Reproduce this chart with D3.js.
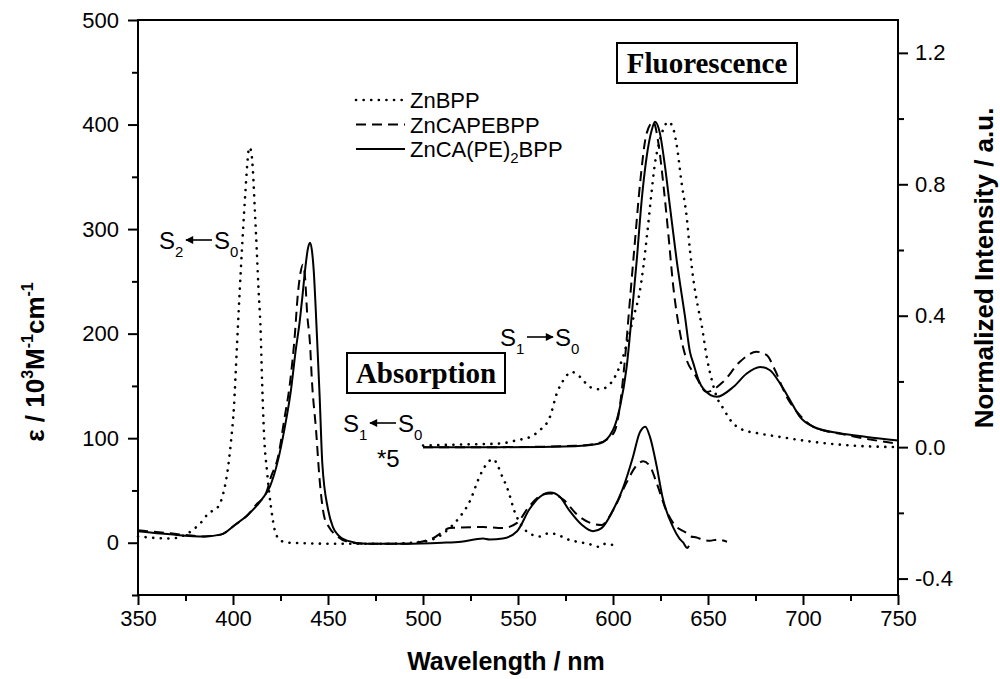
<!DOCTYPE html>
<html>
<head>
<meta charset="utf-8">
<script src="https://cdn.jsdelivr.net/npm/d3@7"></script>
<style>
  html, body { margin: 0; padding: 0; background: #fff; }
  svg { display: block; font-family: "Liberation Sans", Arial, sans-serif; }
</style>
</head>
<body>
<svg id="chart" width="1000" height="679"></svg>
<script>
// absorption, epsilon / 10^3 M-1 cm-1 (Q band region drawn *5)
const absZnBPP = [[350,6],[367,4],[383,19],[387,28],[392,34],[395,48],[397,67],[399,98],[400.5,130],[402,185],[403.5,240],[405,290],[406.5,335],[407.5,362],[408.5,378],[409.5,375],[410.5,355],[411.5,318],[412.5,280],[413.5,240],[414.5,205],[415.3,155],[416.3,105],[418,67],[420,34],[422,12],[425,2],[430,0],[455,-1],[480,-1],[500,1],[510,8],[514,14],[519.5,25],[525,41],[529,60],[531.6,70],[537,80],[539.5,73],[542,62],[544,54],[546,43],[547.6,33],[551,19],[556,9],[561.6,6],[566,9],[570.5,8],[575,4],[581,1],[587,-1],[593,-4],[596,-1],[599.5,-2]];
const absZnCAPEBPP = [[350,12],[367,9],[385,6],[394,8],[401,17],[408,27],[412,36],[417.5,48],[420,63],[423.7,82],[427,118],[430,153],[432.6,200],[434,235],[435.5,258],[436.8,266],[438,252],[439,220],[440.5,191],[441.6,153],[443.7,108],[445.6,60],[448,25],[450.5,15],[455,6],[460,1],[470,-1],[490,-1],[505,4],[510,10],[514,14],[531.6,15],[542,14],[549.5,19],[556,35],[563,46],[567,47],[574,41],[581,27],[588,19],[594,17],[600,31],[607,57],[612,73],[616,78],[619.5,73],[623,57],[628,31],[633.5,15],[636,12],[639,9],[641,6],[644,5],[647,3],[651,2],[655,3],[660,1]];
const absZnCAPE2BPP = [[350,11],[367,8],[385,6],[394,8],[401,17],[408,27],[415,41],[419.5,54],[423.7,79],[427,108],[430.5,146],[433,184],[435,210],[436.5,235],[438,262],[439.5,282],[440.5,287],[441.5,280],[442.5,260],[443.5,225],[444.5,185],[445.6,140],[447,76],[450,32],[452.6,15],[455,8],[460,2],[470,-1],[490,-1],[510,0],[520,1],[531.6,4],[535,3],[542,4],[549.5,11],[556,32],[561.6,44],[567,48],[572,44],[577,31],[583.7,17],[589.5,11],[594,14],[600,31],[605,51],[610.5,82],[614,105],[617,111],[619.5,101],[623,73],[626,44],[631.6,15],[635,4],[637,0],[639,-5],[640,-3]];

// fluorescence, normalized intensity
const fluZnBPP = [[500,0.005],[520,0.008],[540.5,0.011],[549.3,0.021],[556.3,0.031],[561.6,0.052],[566.8,0.092],[570.4,0.163],[573.9,0.204],[578.3,0.229],[582.6,0.214],[587.9,0.183],[593.2,0.176],[596.7,0.183],[601,0.214],[605,0.27],[608,0.33],[611,0.40],[614,0.47],[616,0.55],[618,0.65],[620,0.76],[622,0.86],[624.5,0.93],[627,0.975],[629,0.99],[631,0.98],[633.5,0.92],[636.2,0.80],[638.8,0.70],[640.5,0.60],[642.3,0.51],[644.6,0.43],[646.7,0.37],[649.3,0.275],[652,0.204],[654.6,0.153],[658,0.118],[662.5,0.077],[668.6,0.052],[675.6,0.043],[688,0.031],[705.4,0.016],[723,0.006],[750,0.0]];
const fluZnCAPEBPP = [[500,0],[540,0],[580,0.004],[592,0.012],[598.4,0.031],[601,0.05],[603.5,0.12],[606,0.25],[608.9,0.447],[611.6,0.63],[614.2,0.80],[617.7,0.955],[621.2,0.99],[623.9,0.925],[626.5,0.80],[629.1,0.65],[631.7,0.49],[635.3,0.347],[638.8,0.265],[643.2,0.22],[649.3,0.168],[658,0.199],[666.8,0.26],[675.6,0.29],[680.9,0.28],[685.3,0.234],[691.4,0.153],[697.5,0.103],[705.4,0.062],[723,0.037],[750,0.01]];
const fluZnCAPE2BPP = [[500,0],[540,0],[580,0.003],[593,0.011],[600,0.052],[603.7,0.123],[607.2,0.244],[609.8,0.397],[612.5,0.569],[615.1,0.752],[617.7,0.883],[620.4,0.965],[622.1,0.99],[624.7,0.955],[627.4,0.853],[630,0.731],[633.5,0.569],[637.9,0.397],[640.5,0.29],[642.3,0.255],[645,0.205],[647.5,0.178],[654.6,0.153],[663.3,0.183],[670.4,0.224],[677.4,0.244],[682.6,0.234],[687.9,0.194],[693.2,0.143],[698.4,0.092],[705.4,0.062],[719.5,0.042],[733.5,0.031],[750,0.02]];

const seriesNames = ["ZnBPP", "ZnCAPEBPP", "ZnCA(PE)2BPP"];
const xMajor = d3.range(350, 751, 50);
const xMinor = d3.range(375, 750, 50);
const yLeftMajor = [0, 100, 200, 300, 400, 500];
const yLeftMinor = [-50, 50, 150, 250, 350, 450];
const yRightMajor = [-0.4, 0.0, 0.4, 0.8, 1.2];
const yRightMinor = [-0.2, 0.2, 0.6, 1.0];

const margin = { left: 138, right: 102, top: 20, bottom: 84 };
const W = 1000, H = 679;
const x = d3.scaleLinear([350, 750], [margin.left, W - margin.right]);
const yL = d3.scaleLinear([-50, 500], [H - margin.bottom, margin.top]);
const yR = d3.scaleLinear([-0.45, 1.3], [H - margin.bottom, margin.top]);

const svg = d3.select("#chart");

svg.append("defs").append("marker")
  .attr("id", "arrow")
  .attr("viewBox", "0 0 10 10")
  .attr("refX", 9).attr("refY", 5)
  .attr("markerWidth", 10).attr("markerHeight", 8)
  .attr("markerUnits", "userSpaceOnUse")
  .attr("orient", "auto")
  .append("path").attr("d", "M0,0L10,5L0,10z").attr("fill", "#000");

const styles = [
  { dash: "0.1,7.5", width: 2.6, cap: "round" },
  { dash: "10,6", width: 2, cap: "butt" },
  { dash: null, width: 2, cap: "butt" }
];

const lineL = d3.line().x(d => x(d[0])).y(d => yL(d[1])).curve(d3.curveMonotoneX);
const lineR = d3.line().x(d => x(d[0])).y(d => yR(d[1])).curve(d3.curveMonotoneX);

const plot = svg.append("g");
[absZnBPP, absZnCAPEBPP, absZnCAPE2BPP].forEach((d, i) => {
  plot.append("path").attr("d", lineL(d)).attr("fill", "none").attr("stroke", "#000")
    .attr("stroke-width", styles[i].width).attr("stroke-dasharray", styles[i].dash)
    .attr("stroke-linecap", styles[i].cap);
});
[fluZnBPP, fluZnCAPEBPP, fluZnCAPE2BPP].forEach((d, i) => {
  plot.append("path").attr("d", lineR(d)).attr("fill", "none").attr("stroke", "#000")
    .attr("stroke-width", styles[i].width).attr("stroke-dasharray", styles[i].dash)
    .attr("stroke-linecap", styles[i].cap);
});

// frame
svg.append("rect")
  .attr("x", margin.left).attr("y", margin.top)
  .attr("width", W - margin.left - margin.right)
  .attr("height", H - margin.top - margin.bottom)
  .attr("fill", "none").attr("stroke", "#000").attr("stroke-width", 2);

function styleAxis(g) {
  g.select(".domain").remove();
  g.selectAll("line").attr("stroke", "#000").attr("stroke-width", 2);
  g.selectAll("text").attr("font-size", 22).attr("fill", "#000")
    .attr("font-family", '"Liberation Sans", Arial, sans-serif');
}

const bottom = H - margin.bottom;
svg.append("g").attr("transform", `translate(0,${bottom})`)
  .call(d3.axisBottom(x).tickValues(xMajor).tickSize(10).tickPadding(5).tickFormat(d3.format("d")))
  .call(styleAxis);
svg.append("g").attr("transform", `translate(0,${bottom})`)
  .call(d3.axisBottom(x).tickValues(xMinor).tickSize(6).tickFormat(""))
  .call(styleAxis);

svg.append("g").attr("transform", `translate(${margin.left},0)`)
  .call(d3.axisLeft(yL).tickValues(yLeftMajor).tickSize(10).tickPadding(9).tickFormat(d3.format("d")))
  .call(styleAxis);
svg.append("g").attr("transform", `translate(${margin.left},0)`)
  .call(d3.axisLeft(yL).tickValues(yLeftMinor).tickSize(6).tickFormat(""))
  .call(styleAxis);

const right = W - margin.right;
svg.append("g").attr("transform", `translate(${right},0)`)
  .call(d3.axisRight(yR).tickValues(yRightMajor).tickSize(10).tickPadding(7)
    .tickFormat(d => d3.format(".1f")(d).replace("\u2212", "-")))
  .call(styleAxis);
svg.append("g").attr("transform", `translate(${right},0)`)
  .call(d3.axisRight(yR).tickValues(yRightMinor).tickSize(6).tickFormat(""))
  .call(styleAxis);

// axis titles
svg.append("text")
  .attr("x", 506).attr("y", 670)
  .attr("text-anchor", "middle").attr("font-size", 25).attr("font-weight", "bold")
  .text("Wavelength / nm");

const yt = svg.append("text")
  .attr("transform", "translate(44,362) rotate(-90)")
  .attr("text-anchor", "middle").attr("font-size", 26).attr("font-weight", "bold");
yt.append("tspan").text("\u03b5 / 10");
yt.append("tspan").attr("font-size", 16).attr("dy", -11).text("3");
yt.append("tspan").attr("dy", 11).text("M");
yt.append("tspan").attr("font-size", 16).attr("dy", -11).text("-1");
yt.append("tspan").attr("dy", 11).text("cm");
yt.append("tspan").attr("font-size", 16).attr("dy", -11).text("-1");

svg.append("text")
  .attr("transform", "translate(993,268) rotate(-90)")
  .attr("text-anchor", "middle").attr("font-size", 26).attr("font-weight", "bold")
  .text("Normalized Intensity / a.u.");

// legend
const legend = svg.append("g");
seriesNames.forEach((name, i) => {
  const ly = 100 + i * 24.5;
  legend.append("line").attr("x1", 356).attr("x2", 405).attr("y1", ly).attr("y2", ly)
    .attr("stroke", "#000").attr("stroke-width", styles[i].width)
    .attr("stroke-dasharray", styles[i].dash).attr("stroke-linecap", styles[i].cap);
  const t = legend.append("text").attr("x", 410).attr("y", ly + 8).attr("font-size", 22);
  if (name === "ZnCA(PE)2BPP") {
    t.append("tspan").text("ZnCA(PE)");
    t.append("tspan").attr("font-size", 15).attr("dy", 6).text("2");
    t.append("tspan").attr("dy", -6).text("BPP");
  } else {
    t.text(name);
  }
});

// boxed labels
function boxLabel(txt, cx, cy, w, h) {
  svg.append("rect").attr("x", cx - w / 2).attr("y", cy - h / 2).attr("width", w).attr("height", h)
    .attr("fill", "#fff").attr("stroke", "#000").attr("stroke-width", 2);
  svg.append("text").attr("x", cx).attr("y", cy + 10).attr("text-anchor", "middle")
    .attr("font-family", '"Liberation Serif", "Times New Roman", serif')
    .attr("font-weight", "bold").attr("font-size", 29).text(txt);
}
boxLabel("Fluorescence", 707, 63, 180, 40);
boxLabel("Absorption", 426, 373, 158, 40);

// transition labels
function transition(xs, yb, sub1, sub2, dir) {
  const g = svg.append("g").attr("font-size", 24);
  g.append("text").attr("x", xs).attr("y", yb).text("S");
  g.append("text").attr("x", xs + 16).attr("y", yb + 8).attr("font-size", 15).text(sub1);
  const a1 = xs + 27, a2 = xs + 53, ay = yb - 9;
  g.append("line")
    .attr("x1", dir > 0 ? a1 : a2).attr("x2", dir > 0 ? a2 : a1)
    .attr("y1", ay).attr("y2", ay)
    .attr("stroke", "#000").attr("stroke-width", 1.6).attr("marker-end", "url(#arrow)");
  g.append("text").attr("x", xs + 55).attr("y", yb).text("S");
  g.append("text").attr("x", xs + 71).attr("y", yb + 8).attr("font-size", 15).text(sub2);
}
transition(159, 249, "2", "0", -1);
transition(500, 346, "1", "0", 1);
transition(343, 432, "1", "0", -1);

svg.append("text").attr("x", 377).attr("y", 467).attr("font-size", 24).text("*5");
</script>
</body>
</html>
